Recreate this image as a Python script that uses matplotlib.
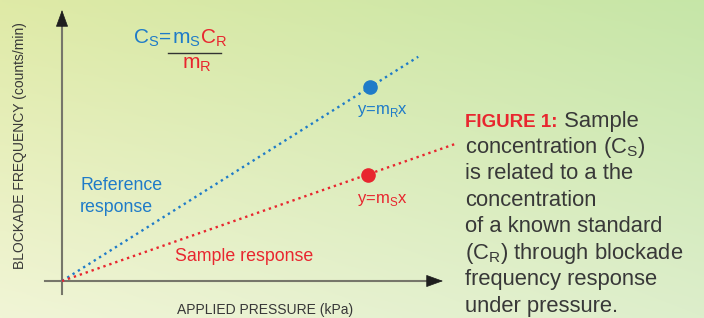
import matplotlib.pyplot as plt
import numpy as np

plt.rcParams['font.family'] = ['Liberation Sans', 'DejaVu Sans']
plt.rcParams['mathtext.fontset'] = 'custom'
plt.rcParams['mathtext.rm'] = 'Liberation Sans'

# data (arbitrary pressure / frequency units)
m_R = 0.885          # reference slope
m_S = 0.49           # sample slope
ref_x = [0, 9.35]
sample_x = [0, 10.35]
ref_point_x = 8.08
sample_point_x = 8.02

caption_lines = [
    " Sample",
    "concentration (C$_\\mathregular{S}$)",
    "is related to a the",
    "concentration",
    "of a known standard",
    "(C$_\\mathregular{R}$) through blockade",
    "frequency response",
    "under pressure.",
]

BLUE = "#1f7bc8"
RED = "#e8262f"
TXT = "#383838"
AXC = "#76766a"

W, H = 704, 318
fig = plt.figure(figsize=(W / 100, H / 100), dpi=100)
ax = fig.add_axes([0, 0, 1, 1])
# origin at pixel (62, 281); 38.1 px per x unit, 27.1 px per y unit
sx, sy = 38.1, 27.1
xlim = (-62 / sx, (W - 62) / sx)
ylim = (-(H - 281) / sy, 281 / sy)
ax.set_xlim(xlim)
ax.set_ylim(ylim)
ax.axis("off")

# background gradient from four corner colours
tl = np.array([223, 234, 166]) / 255
tr = np.array([198, 230, 168]) / 255
bl = np.array([241, 245, 214]) / 255
br = np.array([221, 238, 203]) / 255
u = np.linspace(0, 1, 200)[None, :, None]
v = np.linspace(0, 1, 100)[:, None, None]
grad = (1 - v) * ((1 - u) * tl + u * tr) + v * ((1 - u) * bl + u * br)
ax.imshow(grad, extent=(xlim[0], xlim[1], ylim[0], ylim[1]), aspect="auto",
          zorder=0, interpolation="bilinear")


def px(x, y):
    return x / W, 1 - y / H


# axes with arrowheads
ax.plot([-17 / sx, 9.7], [0, 0], color=AXC, lw=1.5, zorder=2)
ax.plot([0, 0], [-13 / sy, 9.6], color=AXC, lw=1.5, zorder=2)
head = dict(arrowstyle="-|>,head_length=0.55,head_width=0.2", color="#1e1e1e",
            mutation_scale=20, shrinkA=0, shrinkB=0, lw=0.5)
ax.annotate("", xy=(381 / sx, 0), xytext=(9.6, 0), arrowprops=head, zorder=3)
ax.annotate("", xy=(0, 271 / sy), xytext=(0, 9.4), arrowprops=head, zorder=3)

# response lines
rx = np.array(ref_x)
sxv = np.array(sample_x)
ax.plot(rx, m_R * rx, ls=":", color=BLUE, lw=1.7, dash_capstyle="butt",
        clip_on=False, zorder=3)
ax.plot(sxv, m_S * sxv, ls=":", color=RED, lw=1.7, dash_capstyle="butt",
        clip_on=False, zorder=3)
ax.plot([ref_point_x], [m_R * ref_point_x], "o", color=BLUE, ms=9.5, zorder=4)
ax.plot([sample_point_x], [m_S * sample_point_x], "o", color=RED, ms=9.5, zorder=4)

renderer = fig.canvas.get_renderer()


def chain(x, y, pieces):
    fx, fy = px(x, y)
    for s, color, weight, size in pieces:
        t = fig.text(fx, fy, s, color=color, fontsize=size, fontweight=weight,
                     ha="left", va="baseline")
        fx = t.get_window_extent(renderer).x1 / fig.bbox.width


# formula
chain(133, 43, [("C$_\\mathregular{S}$", BLUE, "normal", 15),
                ("=", BLUE, "normal", 15),
                ("m$_\\mathregular{S}$", BLUE, "normal", 15),
                ("C$_\\mathregular{R}$", RED, "normal", 15)])
x0, y0 = px(168, 53.3)
x1, _ = px(221, 53.3)
fig.add_artist(plt.Line2D([x0, x1], [y0, y0], color="#333333", lw=1.0))
chain(182, 68.5, [("m$_\\mathregular{R}$", RED, "normal", 15)])

# line labels
chain(357, 114.3, [("y=m$_\\mathregular{R}$x", BLUE, "normal", 12)])
chain(357, 203.3, [("y=m$_\\mathregular{S}$x", RED, "normal", 12)])
fig.text(*px(80, 190), "Reference", color=BLUE, fontsize=12.8, va="baseline")
fig.text(*px(80, 212), "response", color=BLUE, fontsize=12.8, va="baseline")
fig.text(*px(175, 261), "Sample response", color=RED, fontsize=12.8, va="baseline")

# axis labels
fig.text(*px(177, 314), "APPLIED PRESSURE (kPa)", color=TXT, fontsize=10,
         va="baseline")
fig.text(*px(20, 146), "BLOCKADE FREQUENCY (counts/min)", color=TXT, fontsize=10,
         rotation=90, ha="center", va="center")

# caption
for i, line in enumerate(caption_lines):
    y = 126.5 + 26.45 * i
    if i == 0:
        chain(465, y, [("FIGURE 1:", RED, "bold", 13.5),
                       (line, TXT, "normal", 15.8)])
    else:
        chain(465, y, [(line, TXT, "normal", 15.8)])

fig.savefig("out.png", dpi=100)
